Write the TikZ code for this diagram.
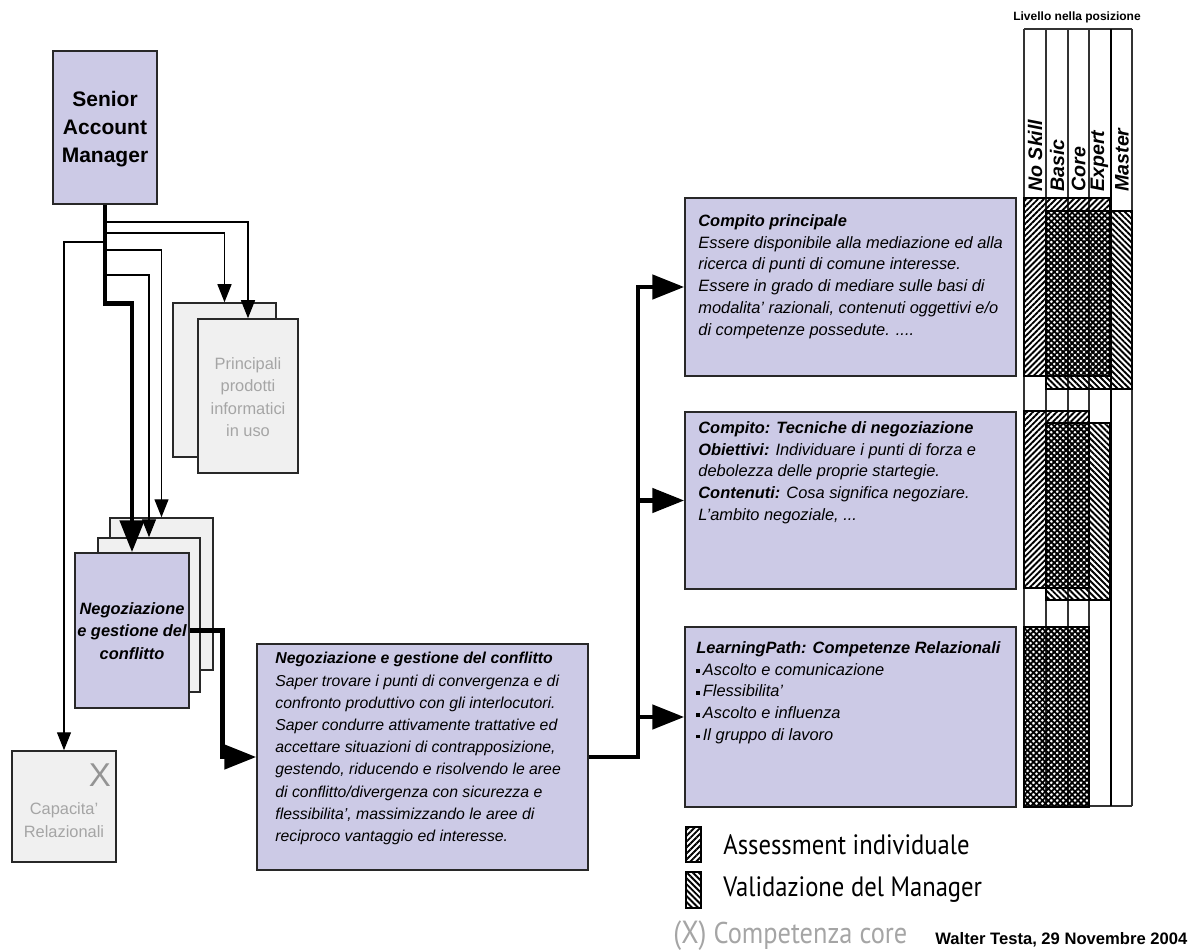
\documentclass[tikz,border=0pt]{standalone}
\usepackage{fontspec}
\setmainfont{Liberation Sans}
\newfontfamily\legfont[FakeStretch=0.88]{PT Sans}
\usetikzlibrary{arrows.meta,patterns.meta,fit}
\definecolor{lav}{RGB}{204,202,230}
\definecolor{lgray}{RGB}{240,240,240}
\definecolor{bord}{RGB}{40,40,40}
\definecolor{gtext}{RGB}{165,165,165}
\newcommand{\blt}{\raisebox{1pt}{\rule{1.9pt}{1.9pt}}\,}
\begin{document}
\begin{tikzpicture}[x=0.5pt,y=-0.5pt,
  lavbox/.style={draw=bord,line width=0.75pt,fill=lav,inner sep=0pt},
  graybox/.style={draw=bord,line width=0.75pt,fill=lgray,inner sep=0pt},
  thinarr/.style={draw=black,line width=0.65pt,-{Triangle[length=9pt,width=7pt]}},
  thkarr/.style={draw=black,line width=2.4pt,-{Triangle[length=16pt,width=12pt]}},
  boxtxt/.style={inner sep=0pt,align=left,anchor=north west,font=\fontsize{8.2}{10.9}\selectfont\itshape},
  graytxt/.style={inner sep=0pt,align=center,text=gtext,font=\fontsize{8.2}{11.2}\selectfont},
  collbl/.style={inner sep=0pt,rotate=90,anchor=west,font=\fontsize{9.8}{10}\selectfont\bfseries\itshape},
  assess/.style={pattern={Lines[angle=45,distance=2.1pt,line width=0.95pt]}},
  valid/.style={pattern={Lines[angle=-45,distance=2.1pt,line width=0.95pt]}},
  hatchbox/.style={draw=black,line width=0.6pt},
  gridline/.style={draw=black!80,line width=0.6pt},
  legtxt/.style={inner sep=0pt,anchor=west,font=\legfont\fontsize{14}{16}\selectfont}
]
\useasboundingbox (0,0) rectangle (1200,952);

% ---------- left part ----------
\node[lavbox, fit={(53,51)(157,204)}] (sam) {};
\node[inner sep=0pt,align=center,font=\fontsize{10.5}{14}\selectfont\bfseries] (samt) at (105,129) {Senior\\Account\\Manager};

\node[graybox, fit={(173,303)(276,457)}] (prodA) {};
\node[graybox, fit={(198,319)(298,473)}] (prodB) {};
\node[graytxt] (prodt) at (248,397) {Principali\\prodotti\\informatici\\in uso};

\node[graybox, fit={(110,518)(213,670)}] (negC) {};
\node[graybox, fit={(98,538)(200,692)}] (negB) {};
\node[lavbox, fit={(75,553)(189,708)}] (neg) {};
\node[inner sep=0pt,align=center,font=\fontsize{8.2}{11.25}\selectfont\bfseries\itshape] (negt) at (132,631) {Negoziazione\\e gestione del\\conflitto};

\node[graybox, fit={(12,751)(116,862)}] (cap) {};
\node[inner sep=0pt,text=gtext!90!black,font=\fontsize{16.5}{17}\selectfont] (capx) at (100,775) {X};
\node[graytxt] (capt) at (64,820) {Capacita'\\Relazionali};

% connectors from Senior Account Manager
\draw[thkarr] (sam.south) -- ++(0,99) -| (neg.north);
\draw[thinarr] (sam.south |- 0,222) -| (prodB.north);
\draw[thinarr] (sam.south |- 0,233) -| (prodA.north);
\draw[thinarr] (sam.south |- 0,242) -| (cap.north);
\draw[thinarr] (sam.south |- 0,250) -| (negC.north);
\draw[thinarr] (sam.south |- 0,275) -| (negB.north);

% ---------- centre box ----------
\node[lavbox, fit={(257,644)(588,870)}] (ctr) {};
\node[boxtxt,font=\fontsize{7.9}{11.1}\selectfont\itshape] (ctrt) at (275,652) {\textbf{Negoziazione e gestione del conflitto}\\
Saper trovare i punti di convergenza e di\\
confronto produttivo con gli interlocutori.\\
Saper condurre attivamente trattative ed\\
accettare situazioni di contrapposizione,\\
gestendo, riducendo e risolvendo le aree\\
di conflitto/divergenza con sicurezza e\\
flessibilita', massimizzando le aree di\\
reciproco vantaggio ed interesse.};

\draw[thkarr] (neg.east) -- ++(33,0) |- (ctr.west);

% ---------- right boxes ----------
\node[lavbox, fit={(685,198)(1016,376)}] (r1) {};
\node[boxtxt] (r1t) at (698,214) {\textbf{Compito principale}\\
Essere disponibile alla mediazione ed alla\\
ricerca di punti di comune interesse.\\
Essere in grado di mediare sulle basi di\\
modalita' razionali, contenuti oggettivi e/o\\
di competenze possedute. ....};

\node[lavbox, fit={(685,412)(1016,589)}] (r2) {};
\node[boxtxt] (r2t) at (698,421) {\textbf{Compito: Tecniche di negoziazione}\\
\textbf{Obiettivi:} Individuare i punti di forza e\\
debolezza delle proprie startegie.\\
\textbf{Contenuti:} Cosa significa negoziare.\\
L'ambito negoziale, ...};

\node[lavbox, fit={(685,627)(1016,807)}] (r3) {};
\node[boxtxt] (r3t) at (696,641) {\textbf{LearningPath: Competenze Relazionali}\\
\blt Ascolto e comunicazione\\
\blt Flessibilita'\\
\blt Ascolto e influenza\\
\blt Il gruppo di lavoro};

\coordinate (j) at (638,757);
\draw[thkarr] (ctr.east) -- (j) |- (r1.west);
\draw[thkarr] (j) |- (r2.west);
\draw[thkarr] (j) |- (r3.west);

% ---------- level grid ----------
\node[inner sep=0pt,font=\fontsize{6}{7}\selectfont\bfseries] (lvl) at (1077,17) {Livello nella posizione};
\foreach \xx in {1024,1046,1068,1089,1132} {\draw[gridline] (\xx,29) -- (\xx,806);}
\draw[gridline] (1024,29) -- (1132,29);
\draw[gridline] (1024,806) -- (1132,806);
\draw[gridline] (1046,198) -- (1110,198);

% hatch areas
\path[assess] (1024,198) rectangle (1110,376);
\path[valid] (1046,211) rectangle (1132,389);
\draw[hatchbox] (1024,198) rectangle (1110,376);
\draw[hatchbox] (1046,211) rectangle (1132,389);

\path[assess] (1024,411) rectangle (1089,588);
\path[valid] (1046,423) rectangle (1110,600);
\draw[hatchbox] (1024,411) rectangle (1089,588);
\draw[hatchbox] (1046,423) rectangle (1110,600);

\path[assess] (1024,627) rectangle (1089,807);
\path[valid] (1024,627) rectangle (1089,807);
\draw[hatchbox] (1024,627) rectangle (1089,807);

\draw[draw=black,line width=1.3pt] (1111,29) -- (1111,806);

\node[collbl] (cNo) at (1035,192) {No Skill};
\node[collbl] (cBa) at (1057,192) {Basic};
\node[collbl] (cCo) at (1078.5,192) {Core};
\node[collbl] (cEx) at (1099.5,192) {Expert};
\node[collbl] (cMa) at (1122,192) {Master};

% ---------- legend ----------
\path[assess] (686,827) rectangle (701,862);
\draw[hatchbox] (686,827) rectangle (701,862);
\node[legtxt] (lA) at (723,845) {Assessment individuale};
\path[valid] (686,872) rectangle (701,908);
\draw[hatchbox] (686,872) rectangle (701,908);
\node[legtxt] (lV) at (723,890) {Validazione del Manager};
\node[legtxt,text=gtext,font=\legfont\fontsize{15}{17}\selectfont] (lX) at (673,936) {{\fontsize{16}{17}\selectfont(X)} Competenza core};
\node[inner sep=0pt,anchor=west,font=\fontsize{8.3}{10}\selectfont\bfseries] (auth) at (935,940) {Walter Testa, 29 Novembre 2004};
\end{tikzpicture}
\end{document}
